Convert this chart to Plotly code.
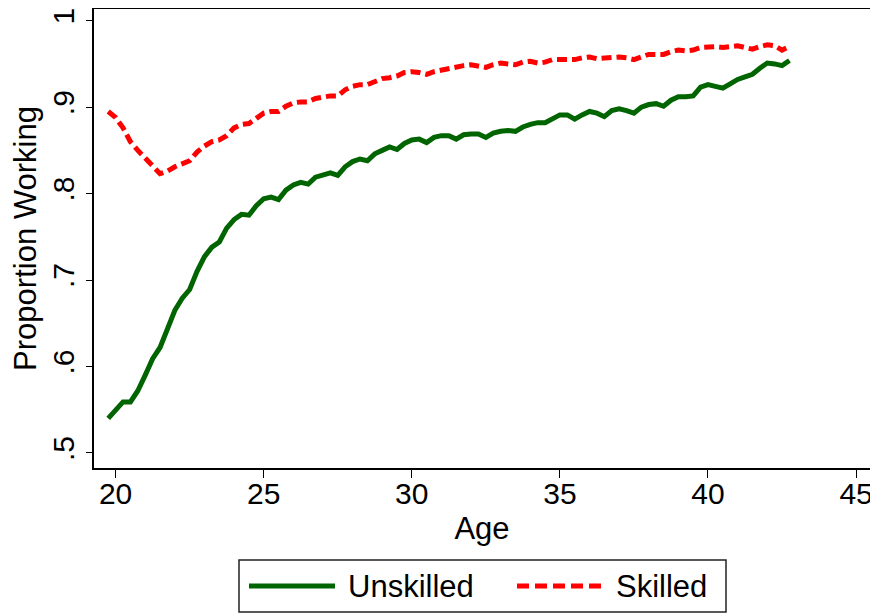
import plotly.graph_objects as go

age = [19.75 + 0.25 * i for i in range(93)]

unskilled = [
    .540, .550, .559, .559, .572, .590, .609, .622, .645, .665, .679, .689,
    .710, .727, .738, .744, .760, .770, .776, .775, .786, .794, .796, .793,
    .804, .810, .813, .811, .819, .822, .824, .821, .831, .837, .840, .838,
    .846, .850, .854, .851, .858, .862, .863, .859, .865, .867, .867, .863,
    .868, .869, .869, .865, .870, .872, .873, .872, .877, .880, .882, .882,
    .887, .891, .891, .886, .891, .895, .893, .889, .896, .898, .896, .893,
    .900, .903, .904, .901, .908, .912, .912, .913, .923, .926, .924, .922,
    .927, .932, .935, .938, .945, .951, .950, .948, .954,
]

skilled = [
    .895, .888, .876, .860, .850, .840, .832, .823, .826, .831, .835, .838,
    .848, .855, .860, .862, .867, .876, .880, .881, .887, .893, .895, .895,
    .901, .905, .906, .906, .910, .912, .913, .913, .920, .924, .926, .926,
    .930, .933, .934, .936, .940, .941, .940, .938, .941, .943, .944, .946,
    .948, .949, .948, .946, .949, .951, .950, .949, .952, .953, .951, .952,
    .955, .955, .955, .955, .957, .958, .956, .957, .958, .958, .957, .955,
    .958, .961, .961, .961, .964, .966, .965, .966, .969, .970, .970, .969,
    .970, .971, .969, .967, .970, .972, .971, .966, .970,
]

series_names = ["Unskilled", "Skilled"]
series_colors = ["#006400", "#ff0000"]
series_dash = ["solid", "10px,5px"]
legend_dash = ["solid", "12px,6px"]

x_ticks = [20, 25, 30, 35, 40, 45]
y_ticks = [0.5, 0.6, 0.7, 0.8, 0.9, 1.0]
y_ticktext = [".5", ".6", ".7", ".8", ".9", "1"]

FONT = "Liberation Sans, Arial, sans-serif"

# The page puts the figure 8px in from the window's top-left corner.
OFF = 8
FIG_W, FIG_H = 878 - OFF, 614 - OFF
# plot area in screen pixels
L, R, T, B = 94, 870, 9, 468
W, H = R - L, B - T


def px2paper(px, py):
    return (px - L) / W, (B - py) / H


fig = go.Figure()
for vals, name, col, dash in zip([unskilled, skilled], series_names,
                                 series_colors, series_dash):
    fig.add_trace(go.Scatter(
        x=age, y=vals, mode="lines", name=name,
        line=dict(color=col, width=5, dash=dash), showlegend=False,
    ))

# custom legend box (Stata style, long line samples)
bx0, by0 = px2paper(239, 560)
bx1, by1 = px2paper(726, 612)
fig.add_shape(type="rect", xref="paper", yref="paper", x0=bx0, y0=by0,
              x1=bx1, y1=by1, line=dict(color="#222222", width=1.5),
              fillcolor="white")
leg_items = [(249, 335, 349), (517, 603, 617)]
for (lx0, lx1, tx), name, col, dash in zip(leg_items, series_names,
                                           series_colors, legend_dash):
    a0, yy = px2paper(lx0, 586)
    a1, _ = px2paper(lx1, 586)
    fig.add_shape(type="line", xref="paper", yref="paper", x0=a0, y0=yy,
                  x1=a1, y1=yy, line=dict(color=col, width=5, dash=dash))
    t0, _ = px2paper(tx, 586)
    fig.add_annotation(xref="paper", yref="paper", x=t0, y=yy, text=name,
                       showarrow=False, xanchor="left", yanchor="middle",
                       xshift=-3,
                       font=dict(size=31, family=FONT, color="black"))

fig.update_layout(
    width=FIG_W, height=FIG_H,
    margin=dict(l=L - OFF, r=878 - R, t=T - OFF, b=614 - B,
                autoexpand=False),
    paper_bgcolor="white", plot_bgcolor="white",
    font=dict(family=FONT, size=30, color="black"),
    showlegend=False,
    xaxis=dict(
        range=[19.27, 45.47], tickvals=x_ticks, ticks="outside", ticklen=8,
        tickwidth=1.2, tickcolor="black", showgrid=False, zeroline=False,
        showline=True, linecolor="black", linewidth=1.5, mirror=True,
        automargin=False, ticklabelstandoff=-10, ticklabeloverflow="allow",
        title=dict(text="Age", font=dict(size=31), standoff=9),
        tickfont=dict(size=30),
    ),
    yaxis=dict(
        range=[0.4826, 1.0135], tickvals=y_ticks, ticktext=y_ticktext,
        ticks="outside", ticklen=6, tickwidth=1.2, tickcolor="black",
        tickangle=-90, showgrid=False, zeroline=False,
        showline=True, linecolor="black", linewidth=1.5, mirror=True,
        automargin=False, ticklabeloverflow="allow",
        title=dict(text="Proportion Working", font=dict(size=31), standoff=6),
        tickfont=dict(size=30),
    ),
)

fig.write_html("out.html")
